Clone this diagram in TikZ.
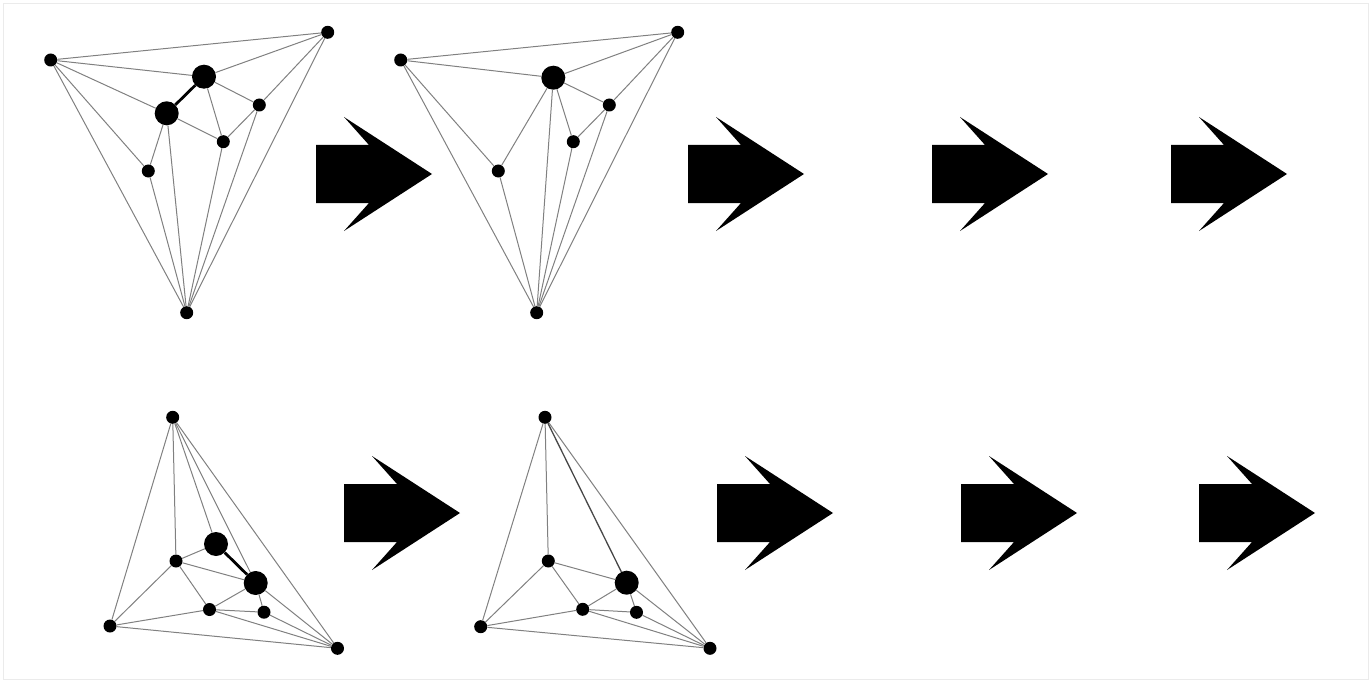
\documentclass[tikz,border=0pt]{standalone}
\begin{document}
\begin{tikzpicture}[x=1pt,y=-1pt,
  dot/.style={circle,fill=black,inner sep=0pt,minimum size=13pt},
  big/.style={circle,fill=black,inner sep=0pt,minimum size=24pt},
  edge/.style={draw=black!50,line width=1pt},
  dbl/.style={draw=black!72,line width=1.3pt},
  heavy/.style={draw=black,line width=2.8pt},
  blockarrow/.style={fill=black}]
\useasboundingbox (0,0) rectangle (1371,682);
\draw[black!8,line width=0.8pt] (3,3) rectangle (1368,679);

% ---- graph 1 ----
\node[dot] (A1) at (50.7,60) {};
\node[dot] (B1) at (327.7,32.3) {};
\node[dot] (C1) at (186.7,312.7) {};
\node[big] (D1) at (204,76.7) {};
\node[big] (E1) at (166.7,113.3) {};
\node[dot] (F1) at (259.3,105) {};
\node[dot] (G1) at (223.3,141.7) {};
\node[dot] (H1) at (148.3,171) {};
\foreach \u/\v in {A1/B1,A1/D1,A1/E1,A1/H1,A1/C1,B1/D1,B1/F1,B1/C1,D1/F1,D1/G1,E1/G1,E1/H1,E1/C1,H1/C1,G1/C1,F1/G1,F1/C1}
  \draw[edge] (\u) -- (\v);
\draw[heavy] (D1) -- (E1);

% ---- graph 2 ----
\node[dot] (A2) at (400.7,60) {};
\node[dot] (B2) at (677.7,32.3) {};
\node[dot] (C2) at (536.7,312.7) {};
\node[big] (D2) at (553.3,77.7) {};
\node[dot] (F2) at (609.3,105) {};
\node[dot] (G2) at (573.3,141.7) {};
\node[dot] (H2) at (498.3,171) {};
\foreach \u/\v in {A2/B2,A2/D2,A2/H2,A2/C2,B2/D2,B2/F2,B2/C2,D2/H2,D2/C2,D2/G2,D2/F2,F2/G2,F2/C2,G2/C2,H2/C2}
  \draw[edge] (\u) -- (\v);

% ---- graph 3 ----
\node[dot] (T3) at (172.7,417.3) {};
\node[dot] (L3) at (110,626) {};
\node[dot] (R3) at (337.5,648.3) {};
\node[big] (P3) at (216,544) {};
\node[big] (Q3) at (255.7,583) {};
\node[dot] (M3) at (176,561) {};
\node[dot] (N3) at (209.5,609.5) {};
\node[dot] (S3) at (264,612.2) {};
\foreach \u/\v in {T3/L3,T3/M3,T3/P3,T3/Q3,T3/R3,M3/P3,M3/Q3,M3/N3,M3/L3,Q3/N3,Q3/S3,Q3/R3,N3/S3,N3/R3,S3/R3,L3/N3,L3/R3}
  \draw[edge] (\u) -- (\v);
\draw[heavy] (P3) -- (Q3);

% ---- graph 4 ----
\node[dot] (T4) at (545,417.3) {};
\node[dot] (L4) at (480.7,626.7) {};
\node[dot] (R4) at (710,648.3) {};
\node[big] (Q4) at (626.7,582.7) {};
\node[dot] (M4) at (548.3,561) {};
\node[dot] (N4) at (582.7,609.3) {};
\node[dot] (S4) at (636.5,612.3) {};
\foreach \u/\v in {T4/L4,T4/M4,T4/R4,M4/Q4,M4/N4,M4/L4,Q4/N4,Q4/S4,Q4/R4,N4/S4,N4/R4,S4/R4,L4/N4,L4/R4}
  \draw[edge] (\u) -- (\v);
\draw[dbl] (T4) -- (Q4);

% ---- block arrows ----
\foreach \x/\y in {316/174,688/174,932/174,1171/174,344/513,717/513,961/513,1199/513}
  \fill[blockarrow] (\x,\y-29) -- (\x+53,\y-29) -- (\x+28,\y-57) -- (\x+116,\y)
     -- (\x+28,\y+57) -- (\x+53,\y+29) -- (\x,\y+29) -- cycle;
\end{tikzpicture}
\end{document}
